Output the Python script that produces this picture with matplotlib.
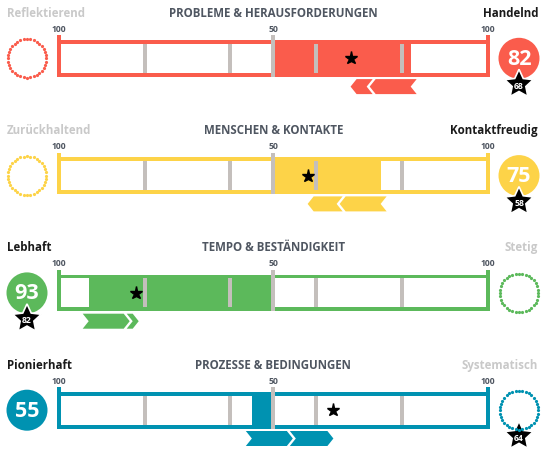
"""Profil-Balken (4 Dimensionen) -> out.png"""
import numpy as np
import matplotlib
matplotlib.use("Agg")
import matplotlib.pyplot as plt
from matplotlib.patches import Rectangle, Polygon

titles = ["PROBLEME & HERAUSFORDERUNGEN", "MENSCHEN & KONTAKTE",
          "TEMPO & BESTÄNDIGKEIT", "PROZESSE & BEDINGUNGEN"]
left_poles = ["Reflektierend", "Zurückhaltend", "Lebhaft", "Pionierhaft"]
right_poles = ["Handelnd", "Kontaktfreudig", "Stetig", "Systematisch"]
scores = [82, 75, 93, 55]
score_sides = [1, 1, -1, -1]      # +1 = rechter Pol, -1 = linker Pol
stars = [68, 58, 82, 64]
star_sides = [1, 1, -1, 1]
colors = ["#fa5c4c", "#fdd348", "#5cb95b", "#0092b1"]
tick_marks = [60, 80]
scale_labels = ["100", "50", "100"]

GRAY = "#c4bfbc"
TITLE_C = "#4f5661"
OFF_C = "#c9c9c9"
FONT = ["Open Sans", "DejaVu Sans"]

W, H, DPI = 541, 451, 100
X0, PX = 273.3, 4.293           # pixel der 50er-Mitte, pixel pro Punkt
ROW0, ROW_DY = 58.3, 117.3


def u(p):
    """Pixellaenge -> Dateneinheit."""
    return p / PX


def pos(v, side):
    return side * (v - 50)


def star_poly(cx, cy, r_out, ratio=0.48):
    a = np.pi / 2 + np.arange(10) * np.pi / 5
    r = np.where(np.arange(10) % 2 == 0, r_out, r_out * ratio)
    # y-Achse zeigt nach unten
    return np.column_stack([cx + r * np.cos(a), cy - r * np.sin(a)])


fig = plt.figure(figsize=(W / DPI, H / DPI), dpi=DPI)
ax = fig.add_axes([0, 0, 1, 1])
ax.set_xlim(u(-X0), u(W - X0))
ax.set_ylim(u(H), 0)
ax.axis("off")

half_h, border, end_w, tick_w = u(18.4), u(3.8), u(3.8), u(4.0)
tick_top = u(23)
xl, xr = u(27 - X0), u(519 - X0)

for i in range(len(titles)):
    c = colors[i]
    yc = u(ROW0 + i * ROW_DY)
    sv, ss = pos(scores[i], score_sides[i]), pos(stars[i], star_sides[i])

    # Balken: Rahmen, weisses Innenfeld, Fuellung
    ax.add_patch(Rectangle((-50 - end_w / 2, yc - half_h), 100 + end_w, 2 * half_h, color=c, lw=0))
    ax.add_patch(Rectangle((-50 + end_w / 2, yc - half_h + border), 100 - end_w,
                           2 * half_h - 2 * border, color="white", lw=0))
    ax.add_patch(Rectangle((min(0, sv), yc - half_h), abs(sv), 2 * half_h, color=c, lw=0))
    for e in (-50, 50):
        ax.add_patch(Rectangle((e - end_w / 2, yc - tick_top), end_w, tick_top - half_h, color=c, lw=0))
    for t in tick_marks:
        for s in (-1, 1):
            ax.add_patch(Rectangle((pos(t, s) - tick_w / 2, yc - half_h + border), tick_w,
                                   2 * half_h - 2 * border, color=GRAY, lw=0))
    ax.add_patch(Rectangle((-tick_w / 2, yc - tick_top), tick_w, tick_top + half_h, color=GRAY, lw=0))

    for x, lab in zip((-50, 0, 50), scale_labels):
        ax.text(x, yc - u(29), lab, ha="center", va="center", fontsize=6.2, fontweight="bold",
                color=TITLE_C, family=FONT)

    ax.plot([ss], [yc], marker="*", ms=9.5, color="black", ls="none")

    # Pfeile vom Wert zum Stern
    d, hh, g, tail_len = u(6), u(7.5), u(3), u(47)
    ya = yc + u(28.3)
    k = 1 if ss > sv else -1
    b0 = sv - k * d
    t1 = b0 + k * tail_len
    tail = [(b0, ya - hh), (t1 - k * d, ya - hh), (t1, ya), (t1 - k * d, ya + hh),
            (b0, ya + hh), (b0 + k * d, ya)]
    ax.add_patch(Polygon(tail, closed=True, color=c, lw=0))
    hb = t1 - k * d + k * g
    tip = ss if k * (ss - hb) > 2 * d else hb + k * 2 * d
    head = [(hb, ya - hh), (tip - k * d, ya - hh), (tip, ya), (tip - k * d, ya + hh),
            (hb, ya + hh), (hb + k * d, ya)]
    ax.add_patch(Polygon(head, closed=True, color=c, lw=0))

    # Ueberschriften
    ty = yc - u(45)
    ax.text(0, ty, titles[i], ha="center", va="center", fontsize=8.3, fontweight="bold",
            color=TITLE_C, family=FONT)
    ax.text(u(7 - X0), ty, left_poles[i], ha="left", va="center", fontsize=8.3, fontweight="bold",
            color="#1a1a1a" if score_sides[i] < 0 else OFF_C, family=FONT)
    ax.text(u(538 - X0), ty, right_poles[i], ha="right", va="center", fontsize=8.3, fontweight="bold",
            color="#1a1a1a" if score_sides[i] > 0 else OFF_C, family=FONT)

    # Kreise
    cx_val = xr if score_sides[i] > 0 else xl
    cx_off = xl if score_sides[i] > 0 else xr
    ax.add_patch(plt.Circle((cx_val, yc), u(20.5), color=c, lw=0))
    ax.text(cx_val, yc + u(1), str(scores[i]), ha="center", va="center", fontsize=15.5,
            fontweight="bold", color="white", family=FONT)
    ang = np.linspace(0, 2 * np.pi, 37)[:-1]
    ax.plot(cx_off + u(19.3) * np.cos(ang), yc + u(19.3) * np.sin(ang), "o", ms=2.3,
            color=c, mew=0)

    cx_star = xr if star_sides[i] > 0 else xl
    ax.add_patch(Polygon(star_poly(cx_star, yc + u(26), u(15)), closed=True,
                         fc="black", ec="white", lw=1.2))
    ax.text(cx_star, yc + u(28), str(stars[i]), ha="center", va="center", fontsize=6.2,
            fontweight="bold", color="white", family=FONT)

fig.savefig("out.png", dpi=DPI, facecolor="white")
